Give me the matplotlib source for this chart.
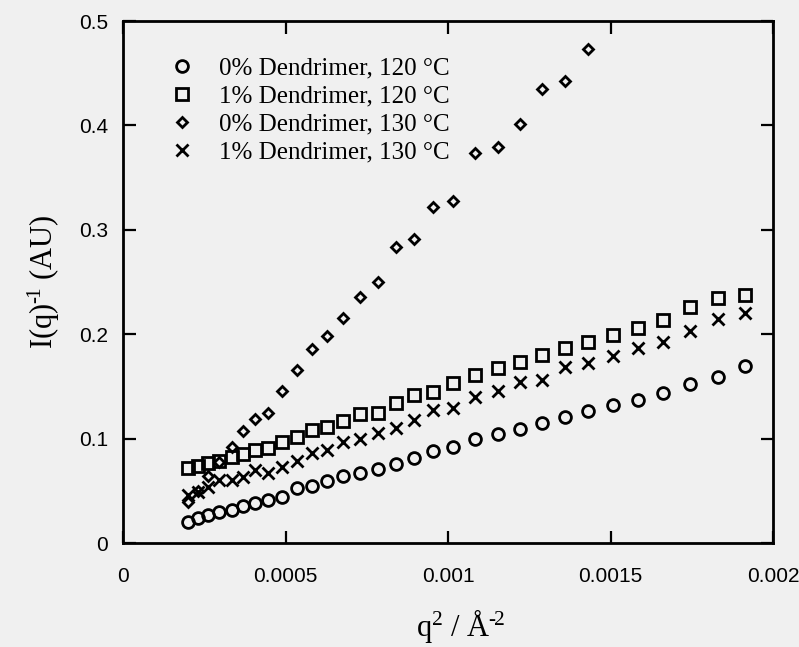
# -*- coding: utf-8 -*-
"""
Zimm-type plot of inverse scattered intensity against q^2 for the
blends with and without dendrimer at two temperatures.
"""

import matplotlib
matplotlib.use("Agg")
import matplotlib.pyplot as plt

# q^2 grid (1/A^2), shared by all four runs
q2 = [0.000200, 0.000231, 0.000262, 0.000295, 0.000335, 0.000369, 0.000406,
      0.000446, 0.000489, 0.000535, 0.000582, 0.000628, 0.000677, 0.000729,
      0.000785, 0.000840, 0.000895, 0.000954, 0.001015, 0.001083, 0.001154,
      0.001222, 0.001289, 0.001360, 0.001431, 0.001508, 0.001585, 0.001662,
      0.001745, 0.001831, 0.001914]

# 0 % dendrimer, 120 C
inv_i_0_120 = [0.020, 0.024, 0.027, 0.030, 0.032, 0.035, 0.038, 0.041, 0.044,
               0.053, 0.055, 0.059, 0.064, 0.067, 0.071, 0.076, 0.081, 0.088,
               0.092, 0.100, 0.104, 0.109, 0.115, 0.121, 0.126, 0.132, 0.137,
               0.144, 0.152, 0.159, 0.170]

# 1 % dendrimer, 120 C
inv_i_1_120 = [0.072, 0.074, 0.077, 0.079, 0.082, 0.085, 0.089, 0.091, 0.097,
               0.102, 0.108, 0.111, 0.117, 0.124, 0.125, 0.134, 0.142, 0.145,
               0.153, 0.161, 0.168, 0.173, 0.180, 0.187, 0.193, 0.199, 0.206,
               0.214, 0.226, 0.235, 0.238]

# 0 % dendrimer, 130 C (measured only up to q^2 ~ 0.00143)
q2_0_130 = q2[:25]
inv_i_0_130 = [0.039, 0.050, 0.064, 0.078, 0.092, 0.107, 0.119, 0.125, 0.146,
               0.166, 0.186, 0.198, 0.216, 0.236, 0.250, 0.284, 0.291, 0.322,
               0.328, 0.374, 0.379, 0.401, 0.435, 0.443, 0.473]

# 1 % dendrimer, 130 C
inv_i_1_130 = [0.046, 0.049, 0.054, 0.060, 0.060, 0.063, 0.070, 0.067, 0.073,
               0.079, 0.086, 0.089, 0.097, 0.100, 0.105, 0.110, 0.118, 0.127,
               0.129, 0.140, 0.146, 0.154, 0.156, 0.169, 0.172, 0.179, 0.187,
               0.193, 0.203, 0.215, 0.220]

labels = ["0% Dendrimer, 120 \u00b0C", "1% Dendrimer, 120 \u00b0C",
          "0% Dendrimer, 130 \u00b0C", "1% Dendrimer, 130 \u00b0C"]

x_ticks = [0, 0.0005, 0.001, 0.0015, 0.002]
x_ticklabels = ["0", "0.0005", "0.001", "0.0015", "0.002"]
y_ticks = [0, 0.1, 0.2, 0.3, 0.4, 0.5]
y_ticklabels = ["0", "0.1", "0.2", "0.3", "0.4", "0.5"]

bg = "#f0f0f0"
serif = "Liberation Serif"
sans = "Liberation Sans"

plt.rcParams["mathtext.fontset"] = "custom"
plt.rcParams["mathtext.rm"] = serif
plt.rcParams["mathtext.it"] = serif + ":italic"

fig = plt.figure(figsize=(7.99, 6.47), dpi=100, facecolor=bg)
ax = fig.add_axes([0.154, 0.1607, 0.8135, 0.8068], facecolor=bg)

mk = dict(linestyle="none", color="black", markerfacecolor="none",
          markeredgecolor="black")
ax.plot(q2, inv_i_0_120, marker="o", markersize=8.5, markeredgewidth=2,
        label=labels[0], **mk)
ax.plot(q2, inv_i_1_120, marker="s", markersize=8.5, markeredgewidth=2,
        label=labels[1], **mk)
ax.plot(q2_0_130, inv_i_0_130, marker="D", markersize=5.5, markeredgewidth=2,
        label=labels[2], **mk)
ax.plot(q2, inv_i_1_130, marker="x", markersize=8, markeredgewidth=2,
        label=labels[3], **mk)

ax.set_xlim(0, 0.002)
ax.set_ylim(0, 0.5)
ax.set_xticks(x_ticks)
ax.set_xticklabels(x_ticklabels, fontfamily=sans, fontsize=15)
ax.set_yticks(y_ticks)
ax.set_yticklabels(y_ticklabels, fontfamily=sans, fontsize=15)
ax.tick_params(direction="in", length=9, width=1.6, top=True, right=True)
ax.tick_params(axis="x", pad=17)
ax.tick_params(axis="y", pad=11)

for s in ax.spines.values():
    s.set_linewidth(2)

ax.set_xlabel("q$^{2}$ / \u00c5$^{\u2010\\!2}$", fontfamily=serif, fontsize=22)
ax.set_ylabel("I(q)$^{\u2010\\!1}$ (AU)", fontfamily=serif, fontsize=22,
              labelpad=12)
# x title sits a little right of the axis centre, close to the bottom edge
ax.xaxis.set_label_coords(0.52, -0.122)

leg = ax.legend(loc="upper left", bbox_to_anchor=(0.056, 0.95), frameon=False,
                prop={"family": serif, "size": 18}, handletextpad=1.0,
                labelspacing=0.22, handlelength=1.0, borderaxespad=0)

fig.savefig("out.png", dpi=100, facecolor=bg)
